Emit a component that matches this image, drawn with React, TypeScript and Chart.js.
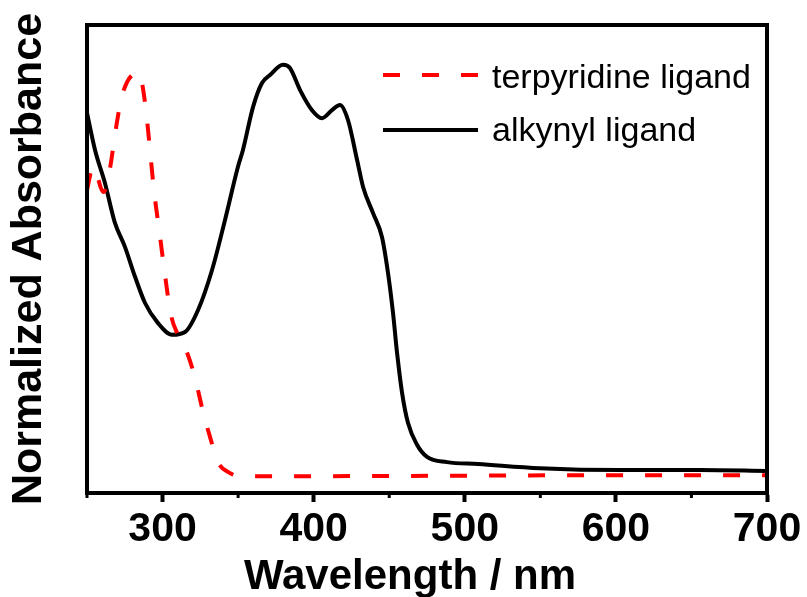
import React, { useEffect, useRef } from 'react';
import { Chart, registerables } from 'chart.js';

Chart.register(...registerables);

const FONT = '"Liberation Sans", Arial, Helvetica, sans-serif';

const xTitle = 'Wavelength / nm';
const yTitle = 'Normalized Absorbance';

const xTicks = [300, 400, 500, 600, 700];
const xMinorTicks = [250, 350, 450, 550, 650];

const terpyLabel = 'terpyridine ligand';
const terpyWl = [250, 254, 261, 265, 269, 272.5, 276.5, 280.5, 283, 285.7, 289, 291.7, 294.3, 298.3, 301.6, 305.6, 310.2, 315.5, 321.5, 326.8, 331.4, 336.7, 343.3, 351.3, 400, 500, 600, 700];
const terpyAbs = [0.647, 0.697, 0.643, 0.69, 0.776, 0.84, 0.878, 0.895, 0.9, 0.887, 0.818, 0.733, 0.647, 0.549, 0.466, 0.38, 0.338, 0.306, 0.246, 0.173, 0.12, 0.066, 0.045, 0.036, 0.036, 0.037, 0.038, 0.038];

const alkynylLabel = 'alkynyl ligand';
const alkynylWl = [250, 255.3, 261.9, 268.5, 275.1, 281.8, 288.4, 297, 306.3, 314.9, 323.5, 332.7, 341.3, 349.9, 353.2, 359.9, 365.8, 371.1, 379.7, 384.3, 391, 398.9, 405.5, 412.1, 417.4, 422.7, 428.7, 432.7, 439.3, 445.2, 449.2, 452.5, 455.2, 458.5, 462.4, 468.4, 475, 488.2, 508.8, 549.8, 602.7, 655.7, 700];
const alkynylAbs = [0.812, 0.733, 0.662, 0.577, 0.526, 0.462, 0.406, 0.363, 0.338, 0.344, 0.391, 0.476, 0.583, 0.697, 0.733, 0.825, 0.876, 0.893, 0.915, 0.908, 0.861, 0.818, 0.801, 0.818, 0.829, 0.797, 0.712, 0.654, 0.598, 0.547, 0.47, 0.385, 0.299, 0.214, 0.15, 0.103, 0.077, 0.066, 0.062, 0.053, 0.049, 0.049, 0.047];

export default function App() {
  const ref = useRef<HTMLCanvasElement>(null);

  useEffect(() => {
    const canvas = ref.current;
    if (!canvas) return;

    const framePlugin = {
      id: 'frameAndLegend',
      afterDraw(chart: any) {
        const { ctx, chartArea } = chart;
        ctx.save();
        ctx.strokeStyle = '#000';
        ctx.lineWidth = 4;
        ctx.setLineDash([]);
        ctx.lineCap = 'butt';
        ctx.lineJoin = 'miter';
        ctx.strokeRect(chartArea.left, chartArea.top, chartArea.right - chartArea.left, chartArea.bottom - chartArea.top);
        const xs = chart.scales.x;
        ctx.lineWidth = 3;
        xMinorTicks.forEach((v) => {
          const px = xs.getPixelForValue(v);
          ctx.beginPath();
          ctx.moveTo(px, chartArea.bottom);
          ctx.lineTo(px, chartArea.bottom + 5);
          ctx.stroke();
        });
        // x-axis title
        ctx.fillStyle = '#000';
        ctx.font = `bold 42px ${FONT}`;
        ctx.textAlign = 'center';
        ctx.textBaseline = 'alphabetic';
        ctx.fillText(xTitle, 410, 589);
        // legend
        const lineX0 = 383;
        const lineX1 = 478;
        const rows = [
          { lineY: 75, textY: 88 },
          { lineY: 130, textY: 141 },
        ];
        chart.data.datasets.forEach((ds: any, i: number) => {
          const r = rows[i];
          ctx.strokeStyle = ds.borderColor;
          ctx.lineWidth = 4;
          ctx.setLineDash(ds.borderDash || []);
          ctx.beginPath();
          ctx.moveTo(lineX0, r.lineY);
          ctx.lineTo(lineX1, r.lineY);
          ctx.stroke();
          ctx.setLineDash([]);
          ctx.fillStyle = '#000';
          ctx.font = `34px ${FONT}`;
          ctx.textBaseline = 'alphabetic';
          ctx.textAlign = 'left';
          ctx.fillText(ds.label, 492, r.textY);
        });
        ctx.restore();
      },
    };

    const chart = new Chart(canvas, {
      type: 'line',
      data: {
        datasets: [
          {
            label: terpyLabel,
            data: terpyWl.map((x, i) => ({ x, y: terpyAbs[i] })),
            borderColor: '#ff0000',
            borderWidth: 4,
            borderDash: [17, 22],
            pointRadius: 0,
            fill: false,
            cubicInterpolationMode: 'monotone',
          },
          {
            label: alkynylLabel,
            data: alkynylWl.map((x, i) => ({ x, y: alkynylAbs[i] })),
            borderColor: '#000000',
            borderWidth: 4,
            pointRadius: 0,
            fill: false,
            cubicInterpolationMode: 'monotone',
          },
        ],
      },
      options: {
        animation: false,
        responsive: true,
        maintainAspectRatio: false,
        layout: { padding: { left: 0, top: 25, right: 40, bottom: 0 } },
        plugins: {
          legend: { display: false },
          tooltip: { enabled: false },
        },
        scales: {
          x: {
            type: 'linear',
            min: 250,
            max: 700,
            afterBuildTicks: (s: any) => {
              s.ticks = xTicks.map((v) => ({ value: v }));
            },
            afterFit: (s: any) => {
              s.height = 104;
            },
            ticks: {
              font: { size: 41, weight: 'bold', family: FONT },
              color: '#000',
              padding: 3,
              maxRotation: 0,
              autoSkip: false,
            },
            grid: {
              drawOnChartArea: false,
              drawTicks: true,
              tickLength: 9,
              tickWidth: 4,
              tickColor: '#000',
            },
            border: { display: true, width: 4, color: '#000' },
            title: { display: false, text: xTitle },
          },
          y: {
            min: 0,
            max: 1,
            afterFit: (s: any) => {
              s.width = 87;
            },
            ticks: { display: false },
            grid: { display: false, drawTicks: false },
            border: { display: true, width: 4, color: '#000' },
            title: {
              display: true,
              text: yTitle,
              font: { size: 43, weight: 'bold', family: FONT },
              color: '#000',
              padding: { top: 3, bottom: 0 },
            },
          },
        },
      },
      plugins: [framePlugin],
    } as any);

    return () => chart.destroy();
  }, []);

  return (
    <div style={{ position: 'absolute', left: 0, top: 0, width: 807, height: 597, background: '#fff' }}>
      <canvas ref={ref} />
    </div>
  );
}
